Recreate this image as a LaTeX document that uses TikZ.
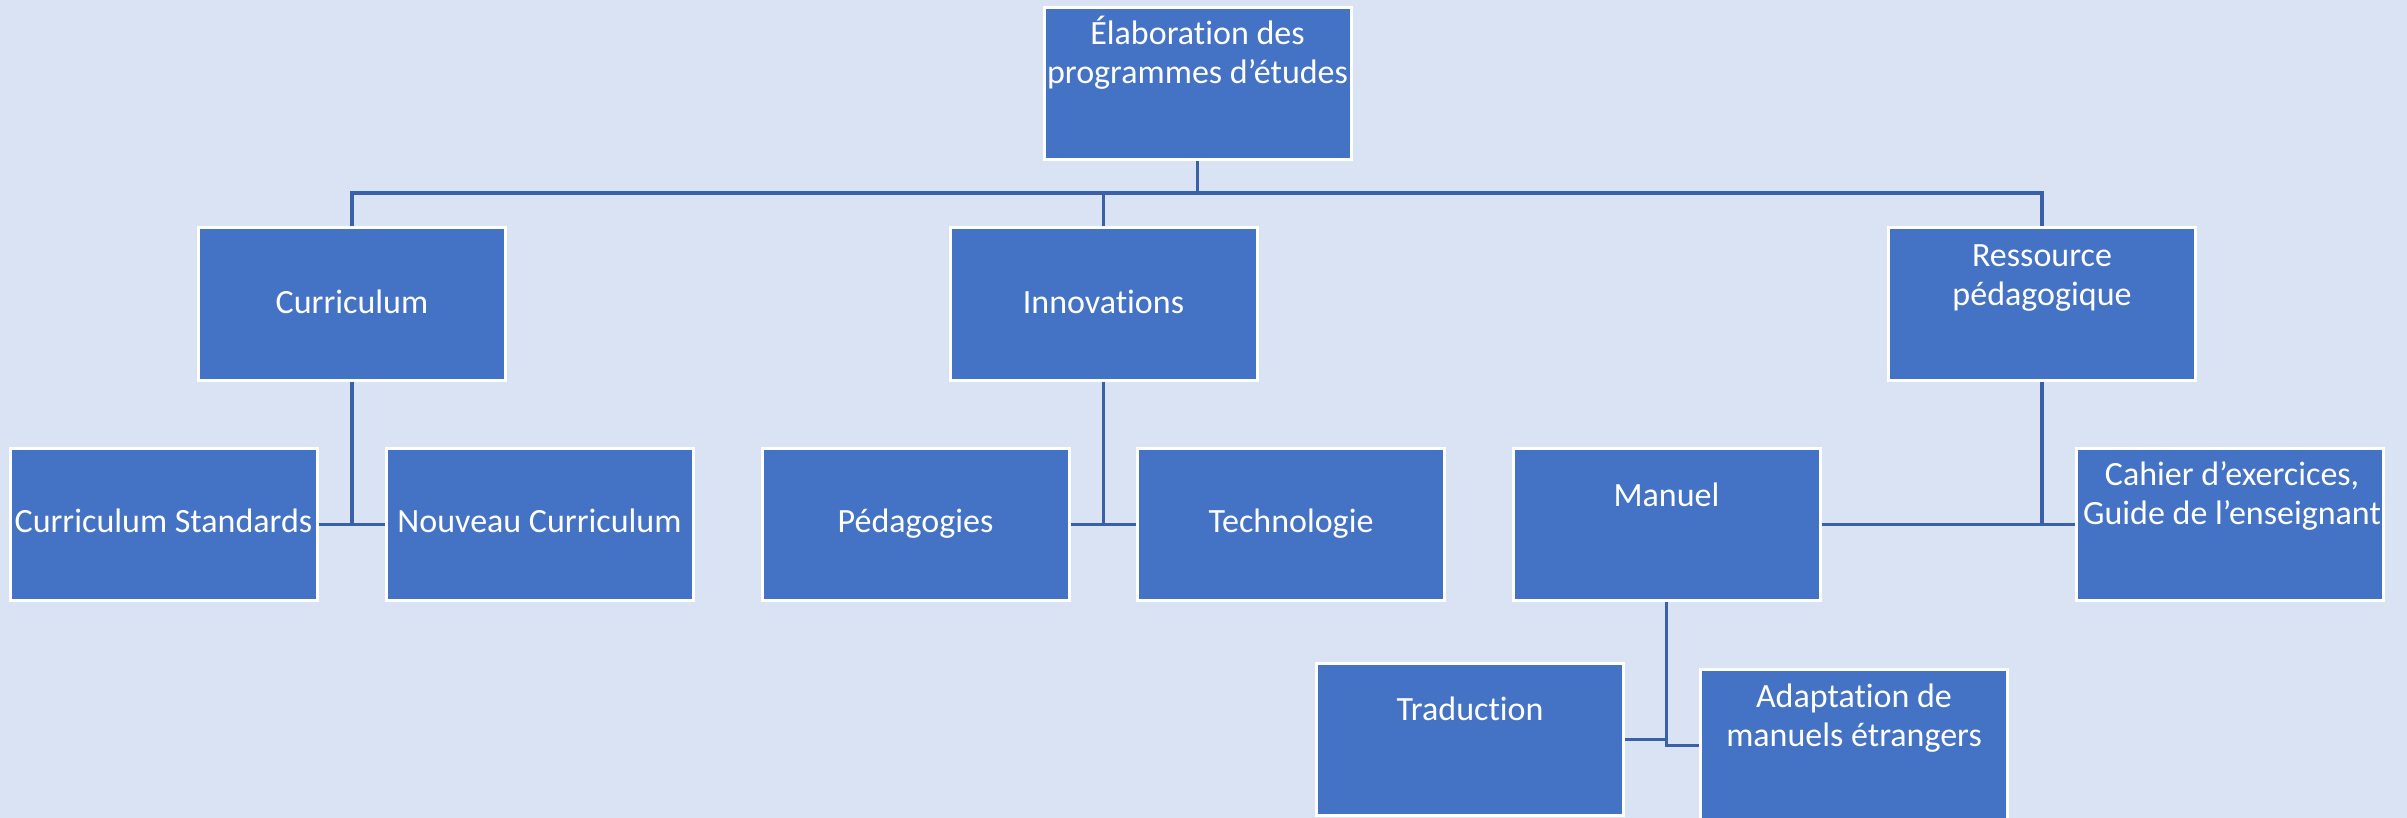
\documentclass[tikz,border=0pt]{standalone}
\usepackage{fontspec}
\setmainfont{Carlito}[Ligatures={NoCommon}]
\definecolor{bgblue}{HTML}{DAE3F3}
\definecolor{boxblue}{HTML}{4472C4}
\definecolor{lineblue}{HTML}{3A61A7}
\begin{document}
\begin{tikzpicture}[x=1pt,y=-1pt,
  box/.style={draw=white,line width=3pt,fill=boxblue,minimum width=307pt,minimum height=152pt,inner sep=0pt},
  lbl/.style={text=white,font=\fontsize{34}{39}\selectfont,anchor=base,inner sep=0pt},
  conn/.style={draw=lineblue,line width=3.2pt}]
\fill[bgblue] (0,0) rectangle (2407,818);
\useasboundingbox (0,0) rectangle (2407,818);
% boxes
\node[box] (top) at (1197.5,84) {};
\node[box] (cur) at (352,304) {};
\node[box] (inn) at (1103.5,304) {};
\node[box] (res) at (2042,304) {};
\node[box] (cs)  at (163.5,524.5) {};
\node[box] (nc)  at (539.5,524.5) {};
\node[box] (ped) at (915.5,524.5) {};
\node[box] (tec) at (1291,524.5) {};
\node[box] (man) at (1666.5,524.5) {};
\node[box] (cah) at (2230,524.5) {};
\node[box] (tra) at (1470,739.5) {};
\node[box] (ada) at (1854,745.5) {};
% texts
\node[lbl] (ttop) at (1197.5,45) {\begin{tabular}[t]{@{}c@{}}Élaboration des\\programmes d’études\end{tabular}};
\node[lbl] (tcur) at (352,313) {Curriculum};
\node[lbl] (tinn) at (1103.5,313) {Innovations};
\node[lbl] (tres) at (2042,267) {\begin{tabular}[t]{@{}c@{}}Ressource\\pédagogique\end{tabular}};
\node[lbl] (tcs)  at (163.5,532) {Curriculum Standards};
\node[lbl] (tnc)  at (539.5,532) {Nouveau Curriculum};
\node[lbl] (tped) at (915.5,532) {Pédagogies};
\node[lbl] (ttec) at (1291,532) {Technologie};
\node[lbl] (tman) at (1666.5,506) {Manuel};
\node[lbl] (tcah) at (2232,485) {\begin{tabular}[t]{@{}c@{}}Cahier d’exercices,\\Guide de l’enseignant\end{tabular}};
\node[lbl] (ttra) at (1470,720) {Traduction};
\node[lbl] (tada) at (1854,707) {\begin{tabular}[t]{@{}c@{}}Adaptation de\\manuels étrangers\end{tabular}};
% connectors
\coordinate (bus) at (1197.5,193);
\draw[conn] (top.south) -- (bus);
\draw[conn] (cur.north) |- (bus);
\draw[conn] (res.north) |- (bus);
\draw[conn] (inn.north) -- (inn.north |- bus);
\draw[conn] (cur.south) -- (cur.south |- cs.east);
\draw[conn] (cs.east) -- (nc.west);
\draw[conn] (inn.south) -- (inn.south |- ped.east);
\draw[conn] (ped.east) -- (tec.west);
\draw[conn] (res.south) -- (res.south |- man.east);
\draw[conn] (man.east) -- (cah.west);
\draw[conn] (man.south) -- (man.south |- ada.west) -- (ada.west);
\draw[conn] (tra.east) -- (tra.east -| man.south);
\end{tikzpicture}
\end{document}
